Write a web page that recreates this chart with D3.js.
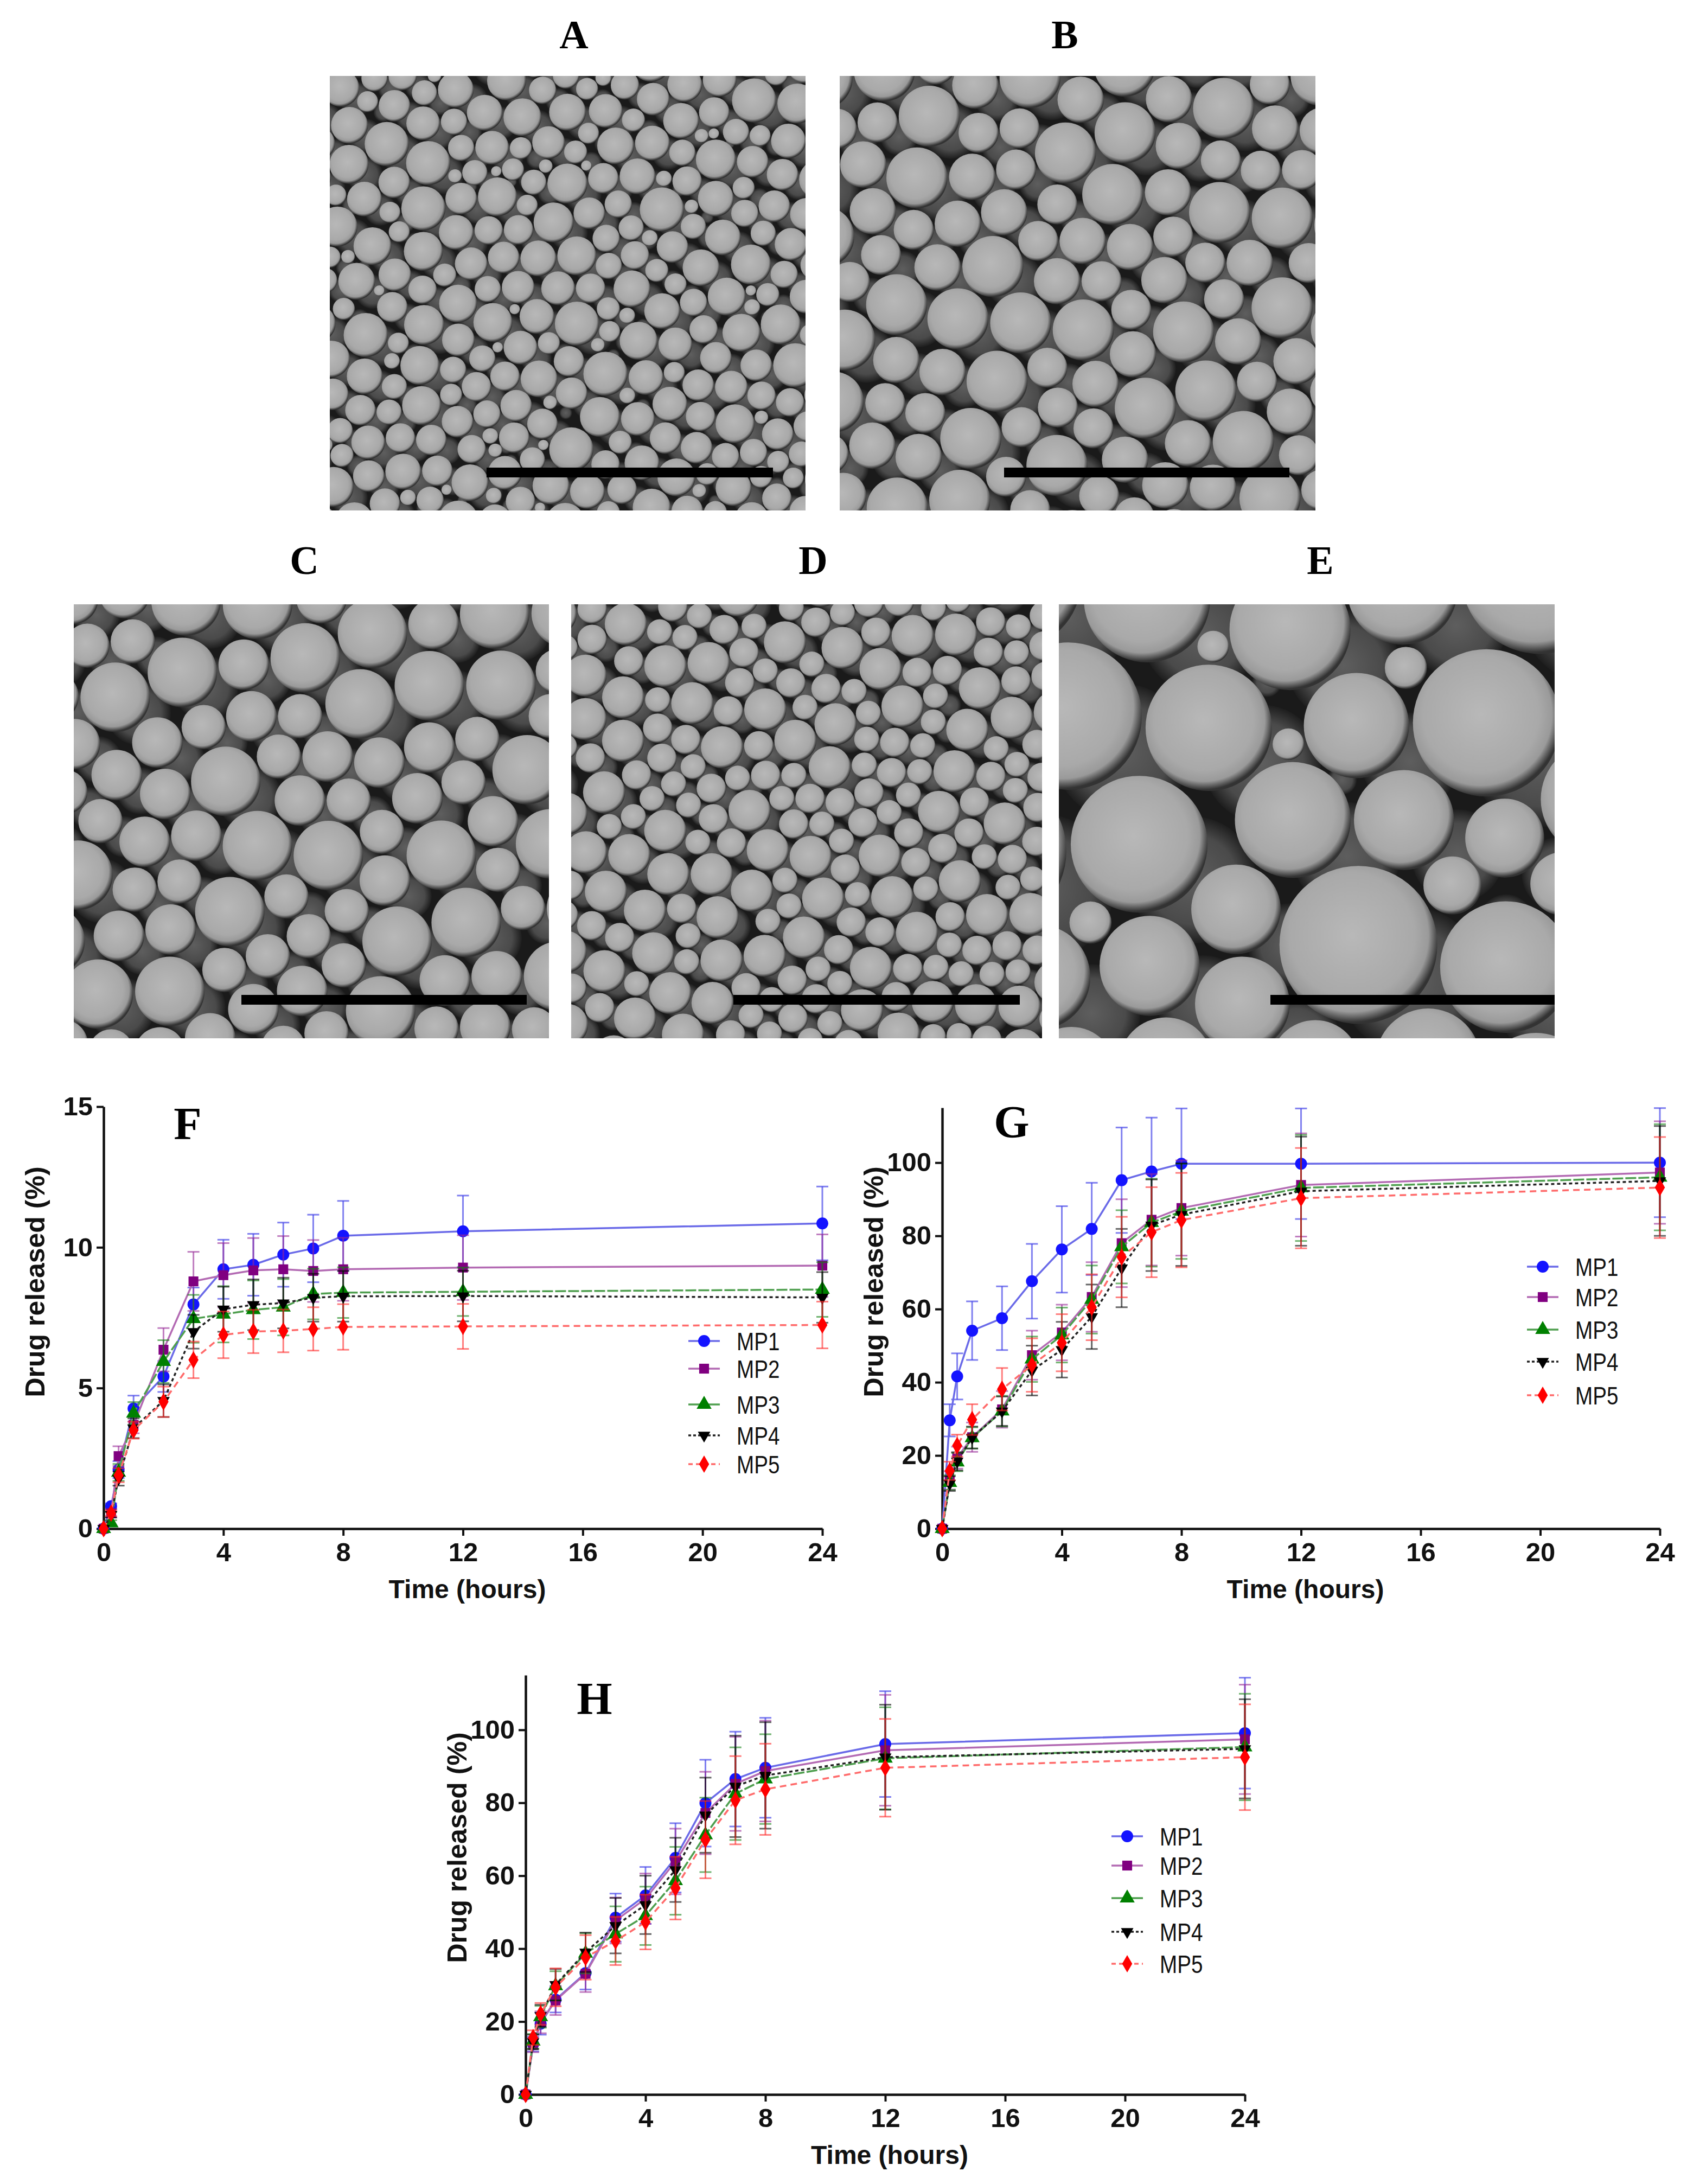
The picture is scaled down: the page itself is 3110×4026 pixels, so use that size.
<!DOCTYPE html>
<html>
<head>
<meta charset="utf-8">
<script src="https://cdn.jsdelivr.net/npm/d3@7"></script>
<style>
  html, body { margin: 0; padding: 0; background: #fff; }
  svg { display: block; }
</style>
</head>
<body>
<div id="fig"></div>
<script>
(function() {
	// sampling times (hours), shared by the three release plots
	var times = [0, 0.25, 0.5, 1, 2, 3, 4, 5, 6, 7, 8, 12, 24];
	var seriesNames = ["MP1", "MP2", "MP3", "MP4", "MP5"];
	var xTicks = [0, 4, 8, 12, 16, 20, 24];

	// F: mean and SD per series
	var fMean = [
		[0, 0.8, 2.1, 4.27, 5.41, 7.97, 9.22, 9.38, 9.74, 9.96, 10.41, 10.57, 10.85],
		[0, 0.55, 2.58, 3.69, 6.36, 8.79, 9.01, 9.18, 9.22, 9.16, 9.22, 9.28, 9.35],
		[0, 0.2, 2.0, 4.1, 5.94, 7.46, 7.62, 7.78, 7.87, 8.34, 8.39, 8.42, 8.5],
		[0, 0.5, 1.78, 3.57, 4.55, 7.0, 7.8, 7.96, 8.02, 8.21, 8.26, 8.27, 8.22],
		[0, 0.55, 1.9, 3.5, 4.51, 6.0, 6.89, 7.01, 7.03, 7.1, 7.17, 7.19, 7.24]
	];
	var fSd = [
		[0, 0.1, 0.3, 0.46, 0.55, 0.6, 1.05, 1.1, 1.14, 1.2, 1.24, 1.27, 1.31],
		[0, 0.15, 0.35, 0.3, 0.77, 1.05, 1.14, 1.15, 1.18, 1.1, 1.12, 1.15, 1.11],
		[0, 0.1, 0.3, 0.4, 0.76, 0.85, 1.0, 1.04, 1.0, 0.9, 0.9, 0.86, 0.97],
		[0, 0.1, 0.25, 0.35, 0.58, 0.6, 0.8, 0.9, 0.9, 0.85, 0.9, 0.9, 0.9],
		[0, 0.1, 0.25, 0.3, 0.54, 0.65, 0.83, 0.77, 0.76, 0.77, 0.81, 0.8, 0.83]
	];
	var fTicks = [0, 5, 10, 15];

	// G
	var gMean = [
		[0, 29.6, 41.6, 54.1, 57.5, 67.6, 76.3, 81.9, 95.2, 97.6, 99.7, 99.7, 100],
		[0, 13.2, 19.4, 25.0, 32.6, 47.4, 53.6, 63.3, 78.0, 84.4, 87.6, 93.9, 97.3],
		[0, 12.6, 18.2, 24.8, 32.1, 46.3, 52.9, 62.6, 77.0, 83.6, 86.7, 93.1, 96.0],
		[0, 12.3, 18.4, 24.9, 32.1, 43.2, 48.9, 57.9, 71.2, 82.9, 85.8, 92.2, 95.0],
		[0, 15.8, 22.7, 29.8, 38.1, 44.7, 50.8, 60.5, 74.2, 81.0, 84.3, 90.3, 93.2]
	];
	var gSd = [
		[0, 4.4, 6.3, 8.0, 8.7, 10.2, 11.8, 12.6, 14.4, 14.7, 15.1, 15.1, 14.9],
		[0, 2.5, 3, 4, 5, 6.7, 7.6, 9.5, 12, 12.5, 13, 14.1, 14],
		[0, 2, 2.5, 2.9, 4.2, 6.2, 7.5, 9.3, 10, 12, 13, 14.5, 14.5],
		[0, 2, 2.5, 3, 4, 6.8, 7.6, 8.8, 10.7, 12.5, 14, 14.9, 15],
		[0, 2.5, 3, 4.2, 5.8, 7.3, 7.8, 9, 11, 12.3, 12.9, 13.7, 13.8]
	];

	// H
	var hMean = [
		[0, 13.8, 19.4, 26.0, 33.3, 48.5, 54.6, 64.9, 79.9, 86.5, 89.6, 96.1, 99.1],
		[0, 13.6, 19.8, 25.8, 33.1, 47.7, 53.7, 63.9, 77.2, 85.2, 88.7, 94.4, 97.4],
		[0, 14.6, 21.3, 29.8, 38.7, 44.0, 49.0, 58.6, 71.2, 82.5, 86.5, 92.2, 95.3],
		[0, 14.4, 21.6, 30.1, 39.0, 46.3, 52.0, 61.6, 76.6, 84.5, 87.5, 92.5, 94.8],
		[0, 15.6, 22.1, 29.4, 37.6, 42.1, 47.3, 56.6, 69.9, 80.7, 83.7, 89.6, 92.5]
	];
	var hSd = [
		[0, 2, 3, 3.5, 4.5, 6.6, 7.8, 9.5, 11.9, 13, 13.7, 14.5, 15.2],
		[0, 2, 3, 4, 5, 6.3, 6.9, 9, 11.3, 12.9, 13.8, 15.2, 15],
		[0, 2, 3, 4, 5.5, 7.6, 8, 9.3, 10.2, 12.7, 12.3, 14, 14.6],
		[0, 2, 3, 4.3, 5.4, 7.6, 8, 8.8, 10.3, 13.9, 14.6, 14.4, 13.6],
		[0, 2, 3, 5.2, 6.1, 6.6, 7.5, 8.6, 10.6, 12.1, 12.5, 13.4, 14.5]
	];
	var pctTicks = [0, 20, 40, 60, 80, 100];

	// sphere radii mixes for the micrographs (cycled when packing)
	var radiiA = [32, 26, 36, 22, 30, 34, 15, 28, 38, 24, 31, 10, 33, 27, 42, 20, 29, 35, 13, 25, 30, 37, 21];
	var radiiB = [44, 36, 50, 28, 40, 46, 20, 38, 54, 32, 42, 14, 48, 34, 58, 26, 40, 45, 18, 36, 47];
	var radiiC = [48, 40, 55, 30, 44, 50, 22, 42, 60, 35, 46, 16, 52, 38, 66, 28, 44, 50, 20, 40, 57];
	var radiiD = [28, 22, 32, 16, 26, 30, 12, 24, 36, 20, 27, 8, 29, 23, 40, 15, 25, 31, 10, 21, 33];
	var radiiE = [110, 85, 130, 60, 100, 120, 40, 95, 140, 75, 105, 30, 115, 90, 150, 55, 125];

	var W = 3110, H = 4026;
	var font = "'Liberation Sans', Arial, sans-serif";
	var serif = "'Liberation Serif', 'Times New Roman', serif";

	var svg = d3.select("#fig").append("svg")
		.attr("width", W)
		.attr("height", H);
	svg.append("rect").attr("width", W).attr("height", H).attr("fill", "#fff");
	var defs = svg.append("defs");

	// sphere shading
	var front = defs.append("radialGradient").attr("id", "sphere")
		.attr("cx", 0.46).attr("cy", 0.44).attr("r", 0.55);
	front.append("stop").attr("offset", "0%").attr("stop-color", "#b8b8b8");
	front.append("stop").attr("offset", "72%").attr("stop-color", "#a9a9a9");
	front.append("stop").attr("offset", "88%").attr("stop-color", "#9a9a9a");
	front.append("stop").attr("offset", "100%").attr("stop-color", "#333");
	var back = defs.append("radialGradient").attr("id", "sphereBack")
		.attr("cx", 0.5).attr("cy", 0.5).attr("r", 0.5);
	back.append("stop").attr("offset", "0%").attr("stop-color", "#5e5e5e");
	back.append("stop").attr("offset", "70%").attr("stop-color", "#4a4a4a");
	back.append("stop").attr("offset", "100%").attr("stop-color", "#1e1e1e");

	function micrograph(id, box, radii, bar) {
		defs.append("clipPath").attr("id", "clip" + id)
			.append("rect").attr("x", box.x).attr("y", box.y)
			.attr("width", box.w).attr("height", box.h);
		var g = svg.append("g").attr("clip-path", "url(#clip" + id + ")");
		g.append("rect").attr("x", box.x).attr("y", box.y)
			.attr("width", box.w).attr("height", box.h).attr("fill", "#1a1a1a");

		var R = Math.hypot(box.w, box.h) / 2;
		var maxR = d3.max(radii);
		var er2 = d3.mean(radii, function(r) { return r * r; });
		var n = Math.ceil(1.3 * (R + maxR) * (R + maxR) / er2);
		var circles = d3.range(n).map(function(i) {
			return { r: radii[(i * 7) % radii.length] };
		});
		d3.packSiblings(circles);
		var enc = d3.packEnclose(circles);
		var cx = box.x + box.w / 2 - enc.x;
		var cy = box.y + box.h / 2 - enc.y;
		var dx = radii[0] * 0.9, dy = radii[0] * 0.6;

		// lower layer seen through the gaps
		g.selectAll("circle.back").data(circles).enter().append("circle")
			.attr("class", "back")
			.attr("cx", function(d) { return cx + d.x + dx; })
			.attr("cy", function(d) { return cy + d.y + dy; })
			.attr("r", function(d) { return d.r * 0.9; })
			.attr("fill", "url(#sphereBack)");
		g.selectAll("circle.front").data(circles).enter().append("circle")
			.attr("class", "front")
			.attr("cx", function(d) { return cx + d.x; })
			.attr("cy", function(d) { return cy + d.y; })
			.attr("r", function(d) { return d.r * 0.97; })
			.attr("fill", "url(#sphere)");

		svg.append("rect").attr("x", bar.x0).attr("y", bar.y)
			.attr("width", bar.x1 - bar.x0).attr("height", 18).attr("fill", "#000");
		svg.append("text").attr("x", box.labelX).attr("y", box.labelY)
			.attr("text-anchor", "middle")
			.style("font-family", serif).style("font-weight", "bold").style("font-size", "74px")
			.text(id);
	}

	micrograph("A", { x: 608, y: 140, w: 877, h: 801, labelX: 1058, labelY: 89 }, radiiA, { x0: 897, x1: 1425, y: 862 });
	micrograph("B", { x: 1548, y: 140, w: 877, h: 801, labelX: 1963, labelY: 89 }, radiiB, { x0: 1851, x1: 2377, y: 862 });
	micrograph("C", { x: 136, y: 1114, w: 876, h: 800, labelX: 561, labelY: 1058 }, radiiC, { x0: 445, x1: 971, y: 1834 });
	micrograph("D", { x: 1053, y: 1114, w: 868, h: 800, labelX: 1499, labelY: 1058 }, radiiD, { x0: 1352, x1: 1880, y: 1834 });
	micrograph("E", { x: 1952, y: 1114, w: 914, h: 800, labelX: 2434, labelY: 1058 }, radiiE, { x0: 2342, x1: 2866, y: 1834 });

	// series styling
	var markerColor = ["#1414ff", "#800080", "#008000", "#000000", "#ff0000"];
	var lineColor = ["#6a6ae8", "#b36ab3", "#4f9f4f", "#222222", "#ff6b6b"];
	var barColor = ["rgba(60,60,230,0.65)", "rgba(150,40,150,0.6)", "rgba(20,130,20,0.6)", "rgba(0,0,0,0.6)", "rgba(255,40,40,0.6)"];
	var dashes = [null, null, "20,4", "6,5", "12,8"];
	var symbols = [
		d3.symbol().type(d3.symbolCircle).size(380),
		d3.symbol().type(d3.symbolSquare).size(330),
		d3.symbol().type(d3.symbolTriangle).size(330),
		d3.symbol().type(d3.symbolTriangle).size(230),
		d3.symbol().type(d3.symbolDiamond).size(300)
	];
	var symbolRotate = [0, 0, 0, 180, 0];

	function releasePlot(cfg) {
		var x = d3.scaleLinear().domain([0, 24]).range([cfg.x0, cfg.x1]);
		var y = d3.scaleLinear().domain([0, cfg.yMax]).range([cfg.yBottom, cfg.yTop]);
		var g = svg.append("g");

		var xAxis = g.append("g").attr("transform", "translate(0," + cfg.yBottom + ")")
			.call(d3.axisBottom(x).tickValues(xTicks).tickSize(13).tickSizeOuter(0).tickPadding(12));
		var yAxis = g.append("g").attr("transform", "translate(" + cfg.x0 + ",0)")
			.call(d3.axisLeft(y).tickValues(cfg.yTicks).tickSize(13).tickSizeOuter(0).tickPadding(7));
		[xAxis, yAxis].forEach(function(a) {
			a.select(".domain").attr("stroke", "#111").attr("stroke-width", 4.5);
			a.selectAll(".tick line").attr("stroke", "#111").attr("stroke-width", 4);
			a.selectAll(".tick text").attr("fill", "#111")
				.style("font-family", font).style("font-weight", "bold").style("font-size", "49px");
		});

		var plot = g.append("g");
		var line = d3.line()
			.x(function(d) { return x(d.t); })
			.y(function(d) { return y(d.m); });

		cfg.mean.forEach(function(means, s) {
			var pts = times.map(function(t, i) { return { t: t, m: means[i], sd: cfg.sd[s][i] }; });
			var sg = plot.append("g");
			// error bars with caps, clipped to the axis range
			var eb = sg.selectAll("g.err").data(pts.filter(function(d) { return d.sd > 0; }))
				.enter().append("g").attr("class", "err")
				.attr("stroke", barColor[s]).attr("stroke-width", 3);
			eb.append("line")
				.attr("x1", function(d) { return x(d.t); })
				.attr("x2", function(d) { return x(d.t); })
				.attr("y1", function(d) { return y(Math.min(cfg.yMax, d.m + d.sd)); })
				.attr("y2", function(d) { return y(Math.max(0, d.m - d.sd)); });
			eb.append("line")
				.attr("x1", function(d) { return x(d.t) - 11; })
				.attr("x2", function(d) { return x(d.t) + 11; })
				.attr("y1", function(d) { return y(Math.min(cfg.yMax, d.m + d.sd)); })
				.attr("y2", function(d) { return y(Math.min(cfg.yMax, d.m + d.sd)); });
			eb.append("line")
				.attr("x1", function(d) { return x(d.t) - 11; })
				.attr("x2", function(d) { return x(d.t) + 11; })
				.attr("y1", function(d) { return y(Math.max(0, d.m - d.sd)); })
				.attr("y2", function(d) { return y(Math.max(0, d.m - d.sd)); });

			sg.append("path").datum(pts)
				.attr("d", line)
				.attr("fill", "none")
				.attr("stroke", lineColor[s])
				.attr("stroke-width", 3.5)
				.attr("stroke-dasharray", dashes[s]);

			sg.selectAll("path.mk").data(pts).enter().append("path")
				.attr("class", "mk")
				.attr("transform", function(d) {
					return "translate(" + x(d.t) + "," + y(d.m) + ") rotate(" + symbolRotate[s] + ")";
				})
				.attr("d", symbols[s])
				.attr("fill", markerColor[s]);
		});

		// legend
		var lg = g.append("g");
		seriesNames.forEach(function(name, s) {
			var ry = cfg.legendRows[s];
			lg.append("line")
				.attr("x1", cfg.legendX - 29).attr("x2", cfg.legendX + 29)
				.attr("y1", ry).attr("y2", ry)
				.attr("stroke", lineColor[s]).attr("stroke-width", 3.5)
				.attr("stroke-dasharray", s === 3 ? "5,4" : (s === 4 ? "8,6" : null));
			lg.append("path")
				.attr("transform", "translate(" + cfg.legendX + "," + ry + ") rotate(" + symbolRotate[s] + ")")
				.attr("d", symbols[s])
				.attr("fill", markerColor[s]);
			lg.append("text")
				.attr("transform", "translate(" + (cfg.legendX + 60) + "," + ry + ") scale(0.84,1)")
				.attr("dy", "0.36em")
				.attr("fill", "#111")
				.style("font-family", font).style("font-size", "46px")
				.text(name);
		});

		// titles
		g.append("text")
			.attr("transform", "translate(" + (cfg.x0 - 127) + "," + (cfg.yBottom - 455) + ") rotate(-90)")
			.attr("text-anchor", "middle").attr("dy", "0.36em")
			.attr("fill", "#111")
			.style("font-family", font).style("font-weight", "bold").style("font-size", "50px")
			.text("Drug released (%)");
		g.append("text")
			.attr("x", (cfg.x0 + cfg.x1) / 2 + 8).attr("y", cfg.yBottom + 111)
			.attr("text-anchor", "middle").attr("dy", "0.36em")
			.attr("fill", "#111")
			.style("font-family", font).style("font-weight", "bold").style("font-size", "48px")
			.text("Time (hours)");
		g.append("text")
			.attr("x", cfg.labelX).attr("y", cfg.labelY)
			.attr("text-anchor", "middle")
			.style("font-family", serif).style("font-weight", "bold").style("font-size", "84px")
			.text(cfg.label);
	}

	releasePlot({
		label: "F", labelX: 346, labelY: 2100,
		x0: 191, x1: 1516, yBottom: 2818, yTop: 2040, yMax: 15, yTicks: fTicks,
		mean: fMean, sd: fSd,
		legendX: 1298, legendRows: [2472, 2523, 2589, 2646, 2699]
	});
	releasePlot({
		label: "G", labelX: 1865, labelY: 2097,
		x0: 1737, x1: 3060, yBottom: 2818, yTop: 2042, yMax: 115, yTicks: pctTicks,
		mean: gMean, sd: gSd,
		legendX: 2844, legendRows: [2335, 2391, 2451, 2510, 2572]
	});
	releasePlot({
		label: "H", labelX: 1096, labelY: 3160,
		x0: 969, x1: 2295, yBottom: 3861, yTop: 3088, yMax: 115, yTicks: pctTicks,
		mean: hMean, sd: hSd,
		legendX: 2078, legendRows: [3385, 3439, 3499, 3561, 3620]
	});
})();
</script>
</body>
</html>
